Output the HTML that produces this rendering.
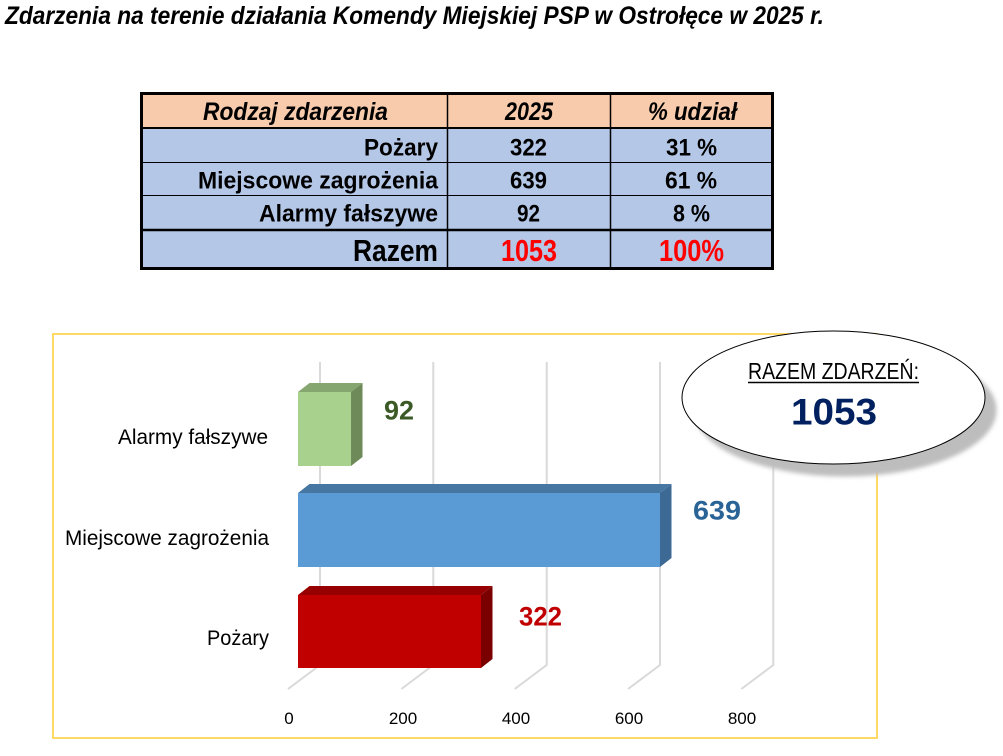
<!DOCTYPE html>
<html>
<head>
<meta charset="utf-8">
<style>
html,body{margin:0;padding:0;background:#fff;}
svg{display:block;}
</style>
</head>
<body>
<svg width="1003" height="756" viewBox="0 0 1003 756" xmlns="http://www.w3.org/2000/svg">
<defs>
<filter id="blur" x="-10%" y="-10%" width="120%" height="120%"><feGaussianBlur stdDeviation="2"/></filter>
</defs>
<rect x="0" y="0" width="1003" height="756" fill="#fff"/>

<!-- Title -->
<text x="5" y="24" font-family="Liberation Sans, Arial, sans-serif" font-size="25" font-weight="bold" font-style="italic" fill="#000" textLength="819" lengthAdjust="spacingAndGlyphs">Zdarzenia na terenie działania Komendy Miejskiej PSP w Ostrołęce w 2025 r.</text>

<!-- Table -->
<rect x="141.5" y="93.5" width="631" height="175" fill="#b4c7e7"/>
<rect x="141.5" y="93.5" width="631" height="34" fill="#f8cbad"/>
<line x1="141" y1="128" x2="773" y2="128" stroke="#000" stroke-width="2"/>
<line x1="141" y1="162.5" x2="773" y2="162.5" stroke="#000" stroke-width="1"/>
<line x1="141" y1="195.5" x2="773" y2="195.5" stroke="#000" stroke-width="1"/>
<line x1="141" y1="230" x2="773" y2="230" stroke="#000" stroke-width="2.5"/>
<line x1="447.5" y1="93" x2="447.5" y2="269" stroke="#000" stroke-width="1.5"/>
<line x1="610.5" y1="93" x2="610.5" y2="269" stroke="#000" stroke-width="1.5"/>
<rect x="141.5" y="93.5" width="631" height="175" fill="none" stroke="#000" stroke-width="3"/>

<g font-family="Liberation Sans, Arial, sans-serif" font-weight="bold" fill="#000">
<text x="203" y="120" font-size="25" font-style="italic" textLength="185" lengthAdjust="spacingAndGlyphs">Rodzaj zdarzenia</text>
<text x="505" y="120" font-size="25" font-style="italic" textLength="48" lengthAdjust="spacingAndGlyphs">2025</text>
<text x="648" y="120" font-size="25" font-style="italic" textLength="89" lengthAdjust="spacingAndGlyphs">% udział</text>

<text x="364" y="155.5" font-size="24.5" textLength="74" lengthAdjust="spacingAndGlyphs">Pożary</text>
<text x="510" y="155.5" font-size="24.5" textLength="37" lengthAdjust="spacingAndGlyphs">322</text>
<text x="666" y="155.5" font-size="24.5" textLength="51" lengthAdjust="spacingAndGlyphs">31 %</text>

<text x="198" y="188.5" font-size="24.5" textLength="240" lengthAdjust="spacingAndGlyphs">Miejscowe zagrożenia</text>
<text x="510" y="188.5" font-size="24.5" textLength="37" lengthAdjust="spacingAndGlyphs">639</text>
<text x="665" y="188.5" font-size="24.5" textLength="52" lengthAdjust="spacingAndGlyphs">61 %</text>

<text x="259" y="221.5" font-size="24.5" textLength="179" lengthAdjust="spacingAndGlyphs">Alarmy fałszywe</text>
<text x="517" y="221.5" font-size="24.5" textLength="23" lengthAdjust="spacingAndGlyphs">92</text>
<text x="673" y="221.5" font-size="24.5" textLength="37" lengthAdjust="spacingAndGlyphs">8 %</text>

<text x="353" y="261" font-size="31" textLength="85" lengthAdjust="spacingAndGlyphs">Razem</text>
<text x="501" y="261" font-size="31" fill="#ff0000" textLength="56" lengthAdjust="spacingAndGlyphs">1053</text>
<text x="659" y="261" font-size="31" fill="#ff0000" textLength="65" lengthAdjust="spacingAndGlyphs">100%</text>
</g>

<!-- Chart frame -->
<rect x="53" y="334" width="824" height="404" fill="#fff" stroke="#ffd966" stroke-width="2"/>

<!-- Gridlines -->
<g stroke="#d9d9d9" stroke-width="2" fill="none">
<polyline points="320,362 320,665 288,689"/>
<polyline points="433.3,362 433.3,665 401.3,689"/>
<polyline points="546.7,362 546.7,665 514.7,689"/>
<polyline points="660,362 660,665 628,689"/>
<polyline points="773.3,362 773.3,665 741.3,689"/>
</g>

<!-- Tick labels -->
<g font-family="Liberation Sans, Arial, sans-serif" font-size="17" fill="#000" text-anchor="middle">
<text x="289" y="724">0</text>
<text x="403" y="724">200</text>
<text x="516" y="724">400</text>
<text x="629" y="724">600</text>
<text x="742" y="724">800</text>
</g>

<!-- Category labels -->
<g font-family="Liberation Sans, Arial, sans-serif" font-size="21" fill="#000">
<text x="118" y="444" textLength="150" lengthAdjust="spacingAndGlyphs">Alarmy fałszywe</text>
<text x="65" y="545" textLength="204" lengthAdjust="spacingAndGlyphs">Miejscowe zagrożenia</text>
<text x="207" y="645" textLength="62" lengthAdjust="spacingAndGlyphs">Pożary</text>
</g>

<!-- Green bar -->
<polygon points="298,392 309.5,383 362.5,383 351,392" fill="#86a66f"/>
<polygon points="351,392 362.5,383 362.5,457 351,466" fill="#6e8a59"/>
<rect x="298" y="392" width="53" height="74" fill="#a9d18e"/>

<!-- Blue bar -->
<polygon points="298,493 309.5,484 671.5,484 660,493" fill="#4676a2"/>
<polygon points="660,493 671.5,484 671.5,558 660,567" fill="#3d6a94"/>
<rect x="298" y="493" width="362" height="74" fill="#5b9bd5"/>

<!-- Red bar -->
<polygon points="298,595 309.5,586 492.5,586 481,595" fill="#960000"/>
<polygon points="481,595 492.5,586 492.5,659 481,668" fill="#7a0000"/>
<rect x="298" y="595" width="183" height="73" fill="#c00000"/>

<!-- Value labels -->
<g font-family="Liberation Sans, Arial, sans-serif" font-size="27" font-weight="bold">
<text x="384" y="419.5" fill="#3b5a26" textLength="30" lengthAdjust="spacingAndGlyphs">92</text>
<text x="693" y="519.5" fill="#2a6496" textLength="48" lengthAdjust="spacingAndGlyphs">639</text>
<text x="519" y="625.5" fill="#c00000" textLength="43" lengthAdjust="spacingAndGlyphs">322</text>
</g>

<!-- Ellipse callout -->
<ellipse cx="845" cy="410" rx="151.5" ry="66.5" fill="#bdbdbd" filter="url(#blur)"/>
<ellipse cx="833.5" cy="397.5" rx="151.5" ry="66.5" fill="#fff" stroke="#000" stroke-width="1"/>
<text x="748" y="379" font-family="Liberation Sans, Arial, sans-serif" font-size="23" fill="#000" textLength="171" lengthAdjust="spacingAndGlyphs">RAZEM ZDARZEŃ:</text>
<line x1="748" y1="382.5" x2="919" y2="382.5" stroke="#000" stroke-width="1.5"/>
<text x="791" y="424.5" font-family="Liberation Sans, Arial, sans-serif" font-size="37" font-weight="bold" fill="#002060" textLength="86" lengthAdjust="spacingAndGlyphs">1053</text>
</svg>
</body>
</html>
